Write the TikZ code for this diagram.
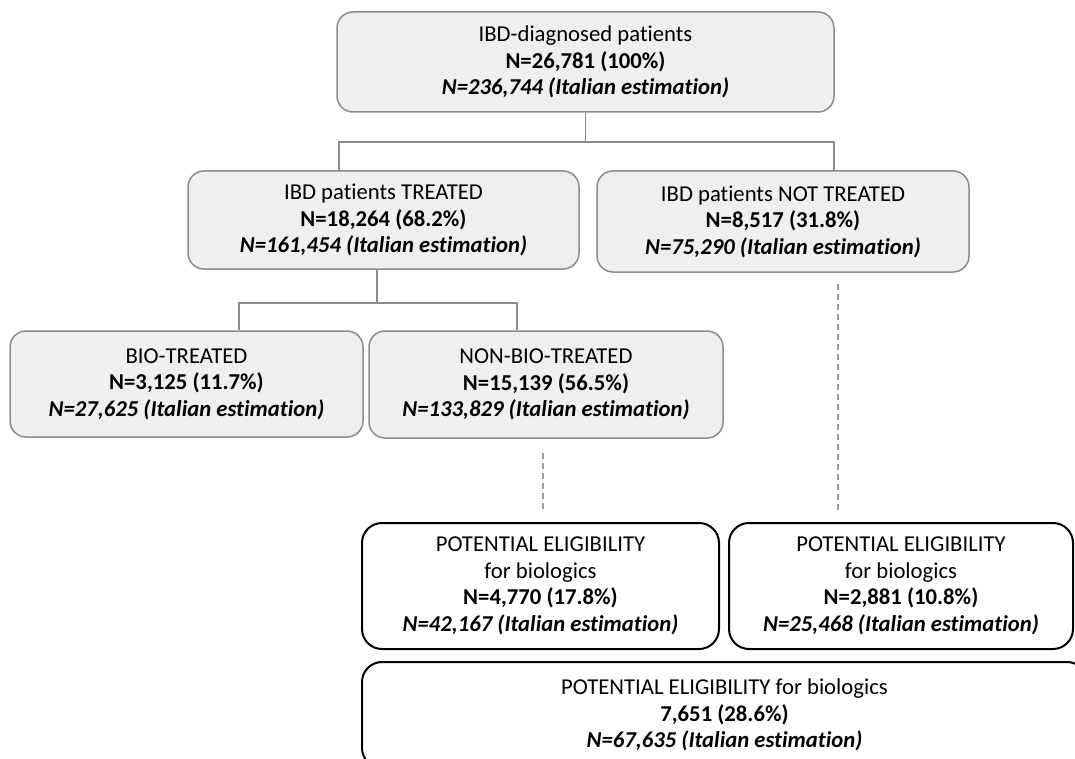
\documentclass[tikz,border=0pt]{standalone}
\usepackage{fontspec}
\setmainfont{Carlito}[Ligatures={NoCommon}]
\definecolor{boxfill}{HTML}{EFEFEF}
\definecolor{boxline}{HTML}{8C8C8C}
\definecolor{dashline}{HTML}{9A9A9A}
\tikzset{
  txt/.style={align=center, inner sep=0pt, font=\fontsize{22.7}{26.5}\selectfont},
  graybox/.style={txt, draw=boxline, fill=boxfill, line width=1.5pt, rounded corners=16pt},
  whitebox/.style={txt, draw=black, fill=white, line width=2pt, rounded corners=20pt},
  conn/.style={draw=boxline, line width=1.5pt},
  dconn/.style={draw=dashline, line width=1.5pt, dash pattern=on 6pt off 4pt},
}
\begin{document}
\begin{tikzpicture}[x=1pt, y=-1pt]
\useasboundingbox (0,0) rectangle (1075,759);
\clip (0,0) rectangle (1075,759);

\node[graybox, minimum width=497pt, minimum height=100pt] (top) at (585.5,62)
  {IBD-diagnosed patients\\ \textbf{N=26,781 (100\%)}\\ \textbf{\textit{N=236,744 (Italian estimation)}}};

\node[graybox, minimum width=391pt, minimum height=98pt] (treated) at (383.5,220)
  {IBD patients TREATED\\ \textbf{N=18,264 (68.2\%)}\\ \textbf{\textit{N=161,454 (Italian estimation)}}};

\node[graybox, minimum width=372pt, minimum height=101pt] (nottreated) at (783,221.5)
  {IBD patients NOT TREATED\\ \textbf{N=8,517 (31.8\%)}\\ \textbf{\textit{N=75,290 (Italian estimation)}}};

\node[graybox, minimum width=353pt, minimum height=106pt] (bio) at (186.5,384)
  {BIO-TREATED\\ \textbf{N=3,125 (11.7\%)}\\ \textbf{\textit{N=27,625 (Italian estimation)}}};

\node[graybox, minimum width=354pt, minimum height=107pt] (nonbio) at (546,384.5)
  {NON-BIO-TREATED\\ \textbf{N=15,139 (56.5\%)}\\ \textbf{\textit{N=133,829 (Italian estimation)}}};

\node[whitebox, minimum width=357pt, minimum height=126pt] (pot1) at (540.5,586)
  {POTENTIAL ELIGIBILITY\\ for biologics\\ \textbf{N=4,770 (17.8\%)}\\ \textbf{\textit{N=42,167 (Italian estimation)}}};

\node[whitebox, minimum width=344pt, minimum height=126pt] (pot2) at (901,586)
  {POTENTIAL ELIGIBILITY\\ for biologics\\ \textbf{N=2,881 (10.8\%)}\\ \textbf{\textit{N=25,468 (Italian estimation)}}};

\node[whitebox, minimum width=725pt, minimum height=106pt] (total) at (724.5,715)
  {POTENTIAL ELIGIBILITY for biologics\\ \textbf{7,651 (28.6\%)}\\ \textbf{\textit{N=67,635 (Italian estimation)}}};

% solid tree connectors
\coordinate (s1) at (585.5,142);
\draw[conn] (top.south) -- (s1);
\draw[conn] ([shift={(-44.5,0)}]treated.north) |- (s1) -| ([shift={(51,0)}]nottreated.north);

\coordinate (s2) at (377,303);
\draw[conn] ([shift={(-6.5,0)}]treated.south) -- (s2);
\draw[conn] ([shift={(52.5,0)}]bio.north) |- (s2) -| ([shift={(-29,0)}]nonbio.north);

% dashed connectors
\draw[dconn] ([shift={(-3,14)}]nonbio.south) -- ([shift={(2.5,-13)}]pot1.north);
\draw[dconn] ([shift={(55,11)}]nottreated.south) -- ([shift={(-63,-11)}]pot2.north);
\end{tikzpicture}
\end{document}
